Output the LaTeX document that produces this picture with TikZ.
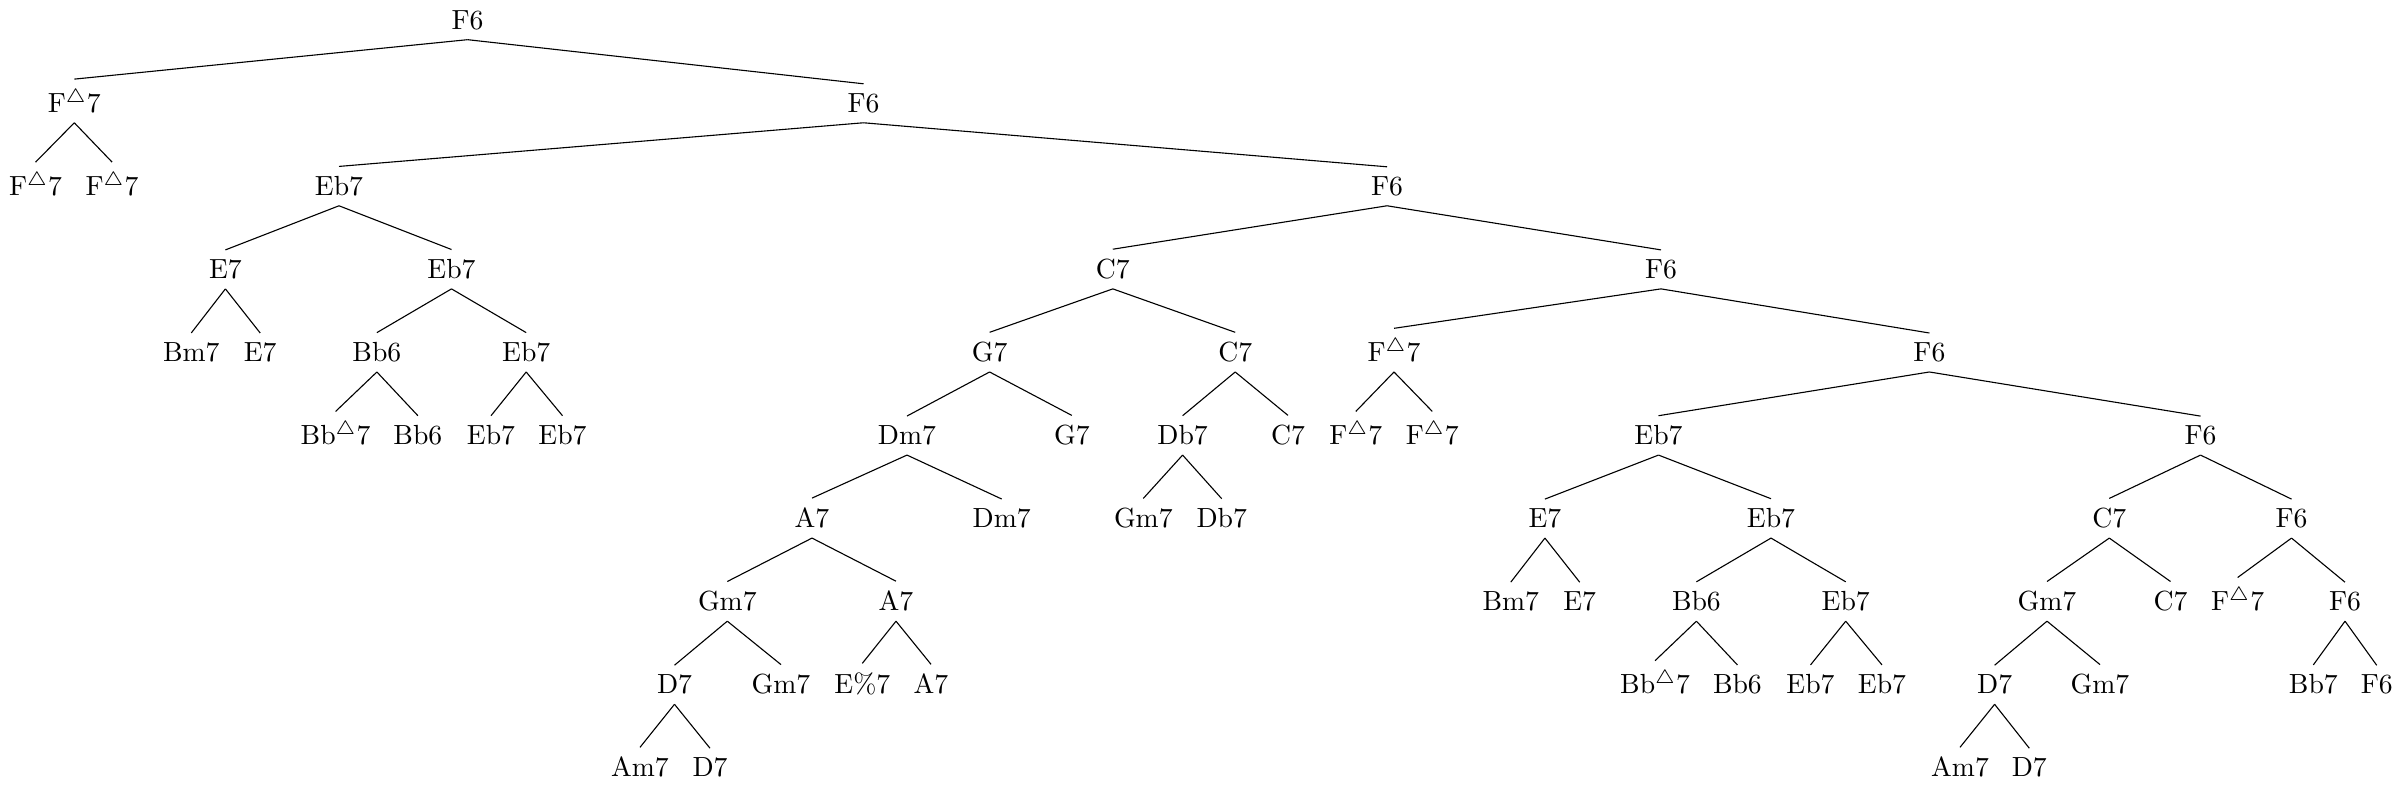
\documentclass[tikz,border=0pt]{standalone}
\usepackage{tikz}
\newcommand{\mj}{\ensuremath{^{\triangle}}}
\tikzset{
  chd/.style={anchor=base},
  brn/.style={line width=0.4pt},
}
\begin{document}
\begin{tikzpicture}[x=0.3614pt,y=-0.3614pt]
\useasboundingbox (0,0) rectangle (2402,785);
% top of the tree
\node[chd] (n) at (467.6,29.3) {F6};
\node[chd] (n0) at (74.3,112.4) {F\mj7};
\node[chd] (n1) at (863.5,112.4) {F6};
\node[chd] (n00) at (35.6,195.4) {F\mj7};
\node[chd] (n01) at (112.1,195.4) {F\mj7};
\node[chd] (n10) at (339,195.4) {Eb7};
\node[chd] (n11) at (1387,195.4) {F6};
% left branch under Eb7
\node[chd] (n100) at (225.4,278.5) {E7};
\node[chd] (n101) at (451.5,278.5) {Eb7};
\node[chd] (n1000) at (191.3,361.6) {Bm7};
\node[chd] (n1001) at (260.2,361.6) {E7};
\node[chd] (n1010) at (376.9,361.6) {Bb6};
\node[chd] (n1011) at (526.2,361.6) {Eb7};
\node[chd] (n10100) at (335.6,444.7) {Bb\mj7};
\node[chd] (n10101) at (417.9,444.7) {Bb6};
\node[chd] (n10110) at (491,444.7) {Eb7};
\node[chd] (n10111) at (562.5,444.7) {Eb7};
% middle: C7 and its turnarounds
\node[chd] (n110) at (1112.8,278.5) {C7};
\node[chd] (n111) at (1661,278.5) {F6};
\node[chd] (n1100) at (989.6,361.6) {G7};
\node[chd] (n1101) at (1235.2,361.6) {C7};
\node[chd] (n11000) at (907,444.7) {Dm7};
\node[chd] (n11001) at (1071.8,444.7) {G7};
\node[chd] (n11010) at (1182.6,444.7) {Db7};
\node[chd] (n11011) at (1288,444.7) {C7};
\node[chd] (n110000) at (812,527.7) {A7};
\node[chd] (n110001) at (1001.7,527.7) {Dm7};
\node[chd] (n110100) at (1143.3,527.7) {Gm7};
\node[chd] (n110101) at (1221.7,527.7) {Db7};
\node[chd] (n1100000) at (727.3,610.8) {Gm7};
\node[chd] (n1100001) at (896,610.8) {A7};
\node[chd] (n11000000) at (674.5,693.9) {D7};
\node[chd] (n11000001) at (781,693.9) {Gm7};
\node[chd] (n11000010) at (862.3,693.9) {E\%7};
\node[chd] (n11000011) at (931,693.9) {A7};
\node[chd] (n110000000) at (640,776.9) {Am7};
\node[chd] (n110000001) at (710,776.9) {D7};
% right: F6 spine
\node[chd] (n1110) at (1394,361.6) {F\mj7};
\node[chd] (n1111) at (1929.4,361.6) {F6};
\node[chd] (n11100) at (1355.8,444.7) {F\mj7};
\node[chd] (n11101) at (1432.3,444.7) {F\mj7};
\node[chd] (n11110) at (1658.5,444.7) {Eb7};
\node[chd] (n11111) at (2200.5,444.7) {F6};
\node[chd] (n111100) at (1544.9,527.7) {E7};
\node[chd] (n111101) at (1771,527.7) {Eb7};
\node[chd] (n111110) at (2109.3,527.7) {C7};
\node[chd] (n111111) at (2291.5,527.7) {F6};
\node[chd] (n1111000) at (1510.8,610.8) {Bm7};
\node[chd] (n1111001) at (1579.7,610.8) {E7};
\node[chd] (n1111010) at (1696.4,610.8) {Bb6};
\node[chd] (n1111011) at (1845.7,610.8) {Eb7};
\node[chd] (n1111100) at (2047,610.8) {Gm7};
\node[chd] (n1111101) at (2170.5,610.8) {C7};
\node[chd] (n1111110) at (2237.6,610.8) {F\mj7};
\node[chd] (n1111111) at (2345,610.8) {F6};
\node[chd] (n11110100) at (1655.1,693.9) {Bb\mj7};
\node[chd] (n11110101) at (1737.4,693.9) {Bb6};
\node[chd] (n11110110) at (1810.5,693.9) {Eb7};
\node[chd] (n11110111) at (1882,693.9) {Eb7};
\node[chd] (n11111000) at (1994.6,693.9) {D7};
\node[chd] (n11111001) at (2100,693.9) {Gm7};
\node[chd] (n11111110) at (2313.3,693.9) {Bb7};
\node[chd] (n11111111) at (2376.7,693.9) {F6};
\node[chd] (n111110000) at (1960,776.9) {Am7};
\node[chd] (n111110001) at (2029.3,776.9) {D7};
% branches, parent to child
\foreach \p in {n,n1,n10,n11,n101,n110,n111,n1100,n1101,n1111,n11000,
                n11110,n11111,n111101,n111110,n111111,n1100000,n1111100}{
  \draw[brn] (\p.south) -- (\p0.north);
  \draw[brn] (\p.south) -- (\p1.north);}
\foreach \p in {n0,n100,n1010,n1011,n11010,n1110,n110000,n111100,n1100001,
                n1111010,n1111011,n1111111,n11000000,n11111000}{
  \draw[brn] (\p.south) -- (\p0.north);
  \draw[brn] (\p.south) -- (\p1.north);}
\end{tikzpicture}
\end{document}
